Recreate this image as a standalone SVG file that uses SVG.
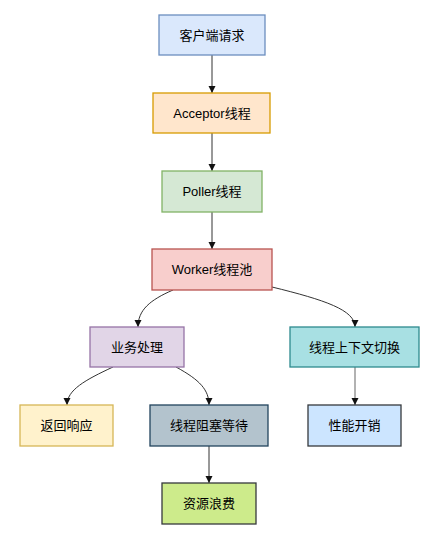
<svg xmlns="http://www.w3.org/2000/svg" width="441" height="548" viewBox="0 0 441 548">
<style>
.n rect{stroke-width:1.3}
.n text{font-family:"Liberation Sans","Noto Sans CJK SC",sans-serif;font-size:13px;fill:#000;text-anchor:middle;dominant-baseline:central}
.e path{fill:none;stroke:#333;stroke-width:1;marker-end:url(#ah)}
</style>
<defs>
<marker id="ah" markerWidth="8" markerHeight="8" refX="7" refY="4" orient="auto" markerUnits="userSpaceOnUse">
<path d="M0,0.5 L7,4 L0,7.5 Z" fill="#111" stroke="none"/>
</marker>
</defs>
<rect width="441" height="548" fill="#fff"/>
<g class="e">
<path d="M212,55 L212,93"/>
<path d="M212,133 L212,171"/>
<path d="M212,212 L212,249"/>
<path d="M173,290 C150,300 138,310 138,327"/>
<path d="M272,287 C325,300 355,310 355,327"/>
<path d="M113,367 C85,380 67,390 67,405"/>
<path d="M176,367 C200,380 209,390 209,405"/>
<path d="M355,367 L355,405" style="stroke:#999;stroke-width:1.5"/>
<path d="M209,446 L209,483"/>
</g>
<g id="n1" class="n"><rect x="159" y="15" width="106" height="40" fill="#dae8fc" stroke="#6c8ebf"/><text x="212" y="35">客户端请求</text></g>
<g id="n2" class="n"><rect x="153" y="93" width="117" height="40" fill="#ffe6cc" stroke="#d79b00"/><text x="212" y="113">Acceptor线程</text></g>
<g id="n3" class="n"><rect x="162" y="171" width="100" height="41" fill="#d5e8d4" stroke="#82b366"/><text x="212" y="191">Poller线程</text></g>
<g id="n4" class="n"><rect x="152" y="249" width="120" height="41" fill="#f8cecc" stroke="#b85450"/><text x="212" y="269.5">Worker线程池</text></g>
<g id="n5" class="n"><rect x="90" y="327" width="94" height="40" fill="#e1d5e7" stroke="#9673a6"/><text x="137" y="347">业务处理</text></g>
<g id="n6" class="n"><rect x="290" y="327" width="129" height="40" fill="#a8e0e3" stroke="#2d8a8e"/><text x="354.5" y="347">线程上下文切换</text></g>
<g id="n7" class="n"><rect x="20" y="405" width="93" height="41" fill="#fff2cc" stroke="#d6b656"/><text x="66.5" y="425.5">返回响应</text></g>
<g id="n8" class="n"><rect x="150" y="405" width="118" height="41" fill="#b3c3cd" stroke="#23445d"/><text x="209" y="425.5">线程阻塞等待</text></g>
<g id="n9" class="n"><rect x="308" y="405" width="93" height="41" fill="#cce5ff" stroke="#36393d"/><text x="354.5" y="425.5">性能开销</text></g>
<g id="n10" class="n"><rect x="162" y="483" width="94" height="41" fill="#cdeb8b" stroke="#36393d"/><text x="209" y="503.5">资源浪费</text></g>
</svg>
